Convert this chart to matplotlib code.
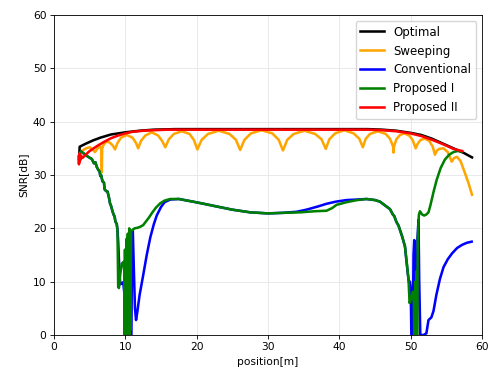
import matplotlib
matplotlib.use("Agg")
import matplotlib.pyplot as plt

# ---------------- data ----------------
opt_x = [3.55, 3.6, 4.5, 5.5, 6.5, 8.0, 10.0, 12.0, 14.0, 17.0, 25.0, 35.0, 44.0, 46.0,
         48.0, 50.0, 51.5, 53.0, 54.5, 56.0, 57.5, 58.6]
opt_y = [34.0, 35.3, 35.9, 36.5, 37.0, 37.6, 38.0, 38.3, 38.5, 38.6, 38.6, 38.6, 38.6, 38.5,
         38.3, 37.9, 37.5, 36.8, 35.9, 35.0, 34.1, 33.3]

swp_x = [3.5, 3.7, 4.0, 4.5, 5.0, 5.4, 5.75, 6.1, 6.5, 6.65, 6.7, 6.75, 7.0, 7.4, 7.9, 8.3,
         8.55, 8.9, 9.4, 10.2, 11.0, 11.5, 11.8, 12.2, 12.8, 13.7, 14.6, 15.2, 15.6, 16.1,
         16.8, 17.9, 19.0, 19.6, 20.1, 20.7, 21.6, 23.1, 24.6, 25.5, 26.1, 26.7, 27.6, 29.1,
         30.6, 31.5, 32.1, 32.7, 33.6, 35.1, 36.6, 37.5, 38.1, 38.6, 39.4, 40.7, 42.0, 42.8,
         43.3, 43.7, 44.3, 45.4, 46.5, 47.1, 47.55, 47.6, 47.65, 48.0, 48.5, 49.1, 49.8,
         50.3, 50.7, 51.0, 51.4, 52.0, 52.6, 53.1, 53.4, 53.7, 54.0, 54.6, 55.2, 55.75,
         56.1, 56.5, 57.0, 57.6, 58.1, 58.6]
swp_y = [33.0, 34.2, 34.6, 35.0, 35.2, 34.8, 34.3, 35.0, 35.3, 35.0, 30.5, 35.0, 35.8, 36.3,
         36.0, 35.4, 34.8, 36.0, 37.0, 37.5, 37.0, 36.0, 35.0, 36.4, 37.4, 38.0, 37.4, 36.3,
         35.2, 36.7, 37.7, 38.2, 37.7, 36.6, 34.8, 36.6, 37.7, 38.3, 37.7, 36.6, 34.7, 36.6,
         37.8, 38.4, 37.8, 36.6, 34.6, 36.6, 37.7, 38.3, 37.7, 36.7, 34.9, 36.7, 37.8, 38.4,
         37.8, 36.8, 35.2, 36.8, 37.7, 38.2, 37.7, 36.8, 35.3, 34.2, 35.3, 36.7, 37.5, 37.8,
         37.4, 36.5, 35.0, 35.9, 36.6, 36.8, 36.4, 35.3, 33.8, 34.6, 34.9, 35.0, 34.3, 32.5,
         33.2, 33.4, 32.6, 30.4, 28.5, 26.3]

conv_x = [3.8, 4.3, 4.8, 5.3, 5.6, 5.8, 6.0, 6.2, 6.4, 6.5, 6.6, 6.8, 7.0, 7.1, 7.3, 7.5,
          7.7, 7.85, 8.0, 8.2, 8.35, 8.5, 8.6, 8.8, 8.9, 9.0, 9.2, 9.3, 9.5, 9.7, 9.85,
          9.9, 9.95, 10.0, 10.1, 10.2, 10.3, 10.5, 10.6, 10.65, 10.7, 10.85, 10.95, 11.05,
          11.2, 11.35, 11.5, 11.7, 12.0, 12.5, 13.0, 13.5, 14.0, 14.4, 15.0, 15.5, 16.3,
          17.5, 19.5, 21.0, 22.8, 25.0, 27.5, 30.0, 32.0, 34.0, 35.4, 37.0, 38.2, 39.5,
          41.0, 42.5, 43.8, 45.0, 45.7, 46.2, 46.7, 47.1, 47.5, 47.7, 48.0, 48.3, 48.5,
          48.8, 49.2, 49.4, 49.6, 49.75, 49.9, 50.0, 50.1, 50.3, 50.4, 50.5, 50.6, 50.7,
          50.85, 50.95, 51.1, 51.2, 51.35, 51.8, 52.2, 52.5, 52.9, 53.2, 53.6, 54.1, 54.6,
          55.2, 55.8, 56.5, 57.2, 57.9, 58.55]
conv_y = [34.4, 33.9, 33.4, 33.0, 32.2, 32.4, 31.5, 31.0, 30.6, 29.8, 30.0, 28.8, 28.6,
          27.3, 27.0, 26.9, 25.8, 24.7, 24.2, 23.2, 22.6, 22.2, 21.3, 20.8, 19.7, 17.5,
          11.0, 9.5, 9.7, 9.9, 8.0, 0.0, 12.0, 0.0, 8.0, 0.0, 0.0, 0.0, 14.0, 17.2, 0.0,
          0.0, 19.0, 19.5, 12.0, 5.0, 2.8, 4.5, 7.5, 11.2, 15.0, 18.3, 20.8, 22.4, 24.0,
          24.9, 25.4, 25.5, 25.0, 24.6, 24.1, 23.5, 23.0, 22.8, 22.9, 23.1, 23.5, 24.1,
          24.6, 25.0, 25.3, 25.4, 25.5, 25.3, 25.0, 24.5, 24.0, 23.6, 22.6, 22.3, 21.2,
          20.5, 19.7, 18.5, 16.6, 14.0, 11.5, 10.0, 10.0, 9.0, 0.0, 0.0, 15.0, 17.8, 15.0,
          0.0, 0.0, 18.0, 21.6, 10.0, 0.0, 0.0, 0.3, 2.8, 3.3, 4.5, 7.5, 10.5, 12.7, 14.2,
          15.3, 16.3, 16.9, 17.3, 17.5]

p1_x = [3.8, 4.3, 4.8, 5.3, 5.6, 5.8, 6.0, 6.2, 6.4, 6.5, 6.6, 6.8, 7.0, 7.1, 7.3, 7.5,
        7.7, 7.85, 8.0, 8.2, 8.35, 8.5, 8.6, 8.8, 8.9, 9.0, 9.1, 9.3, 9.5, 9.75, 9.85,
        9.9, 9.95, 10.0, 10.05, 10.1, 10.15, 10.2, 10.25, 10.3, 10.35, 10.4, 10.45, 10.5,
        10.55, 10.6, 10.65, 10.7, 10.8, 11.0, 11.3, 11.7, 12.1, 12.5, 12.9, 13.3, 13.8,
        14.3, 14.9, 15.5, 16.3, 17.5, 19.5, 21.0, 22.8, 25.0, 27.5, 30.0, 32.0, 34.5,
        36.5, 38.2, 39.0, 39.6, 41.0, 42.5, 43.8, 45.0, 45.7, 46.2, 46.7, 47.1, 47.5,
        47.7, 48.0, 48.3, 48.5, 48.8, 49.2, 49.5, 49.7, 49.85, 50.0, 50.3, 50.45, 50.5,
        50.55, 50.6, 50.65, 50.7, 50.75, 50.8, 50.85, 50.9, 51.0, 51.15, 51.3, 51.6,
        51.9, 52.2, 52.5, 52.8, 53.2, 53.65, 54.2, 54.8, 55.4, 56.0, 56.6, 57.2]
p1_y = [34.4, 33.9, 33.4, 33.0, 32.2, 32.4, 31.5, 31.0, 30.6, 29.8, 30.0, 28.8, 28.6,
        27.3, 27.0, 26.9, 25.8, 24.7, 24.2, 23.2, 22.6, 22.2, 21.3, 20.8, 19.5, 9.0, 8.8,
        11.5, 13.4, 13.7, 12.0, 0.0, 16.0, 0.0, 13.0, 0.0, 18.0, 0.0, 15.0, 0.0, 19.0,
        0.0, 16.0, 0.0, 20.0, 0.0, 17.0, 1.0, 19.5, 19.7, 20.0, 20.1, 20.3, 20.6, 21.3,
        22.0, 23.0, 23.9, 24.7, 25.2, 25.5, 25.5, 25.0, 24.6, 24.1, 23.5, 23.0, 22.8,
        22.9, 23.0, 23.2, 23.3, 23.8, 24.4, 24.9, 25.3, 25.5, 25.3, 25.0, 24.5, 24.0,
        23.6, 22.6, 22.3, 21.2, 20.5, 19.7, 18.5, 16.6, 13.0, 10.3, 6.0, 6.5, 8.1, 6.0,
        0.0, 8.0, 0.0, 10.0, 0.0, 9.0, 0.0, 12.0, 0.0, 18.0, 22.5, 23.2, 22.6, 22.4,
        22.6, 23.0, 24.5, 26.8, 29.1, 31.3, 32.9, 33.8, 34.3, 34.5, 34.4]

p2_x = [3.45, 3.5, 3.55, 3.6, 3.65, 3.7, 3.8, 4.0, 4.5, 5.0, 6.0, 7.0, 8.0, 9.0, 10.0,
        11.0, 12.5, 14.0, 16.0, 44.0, 46.0, 48.0, 50.0, 51.5, 53.0, 54.5, 56.0, 57.2]
p2_y = [33.5, 32.0, 34.0, 32.5, 33.8, 32.8, 33.6, 33.2, 33.9, 34.5, 35.4, 36.2, 36.9,
        37.4, 37.8, 38.1, 38.3, 38.4, 38.5, 38.5, 38.4, 38.2, 37.8, 37.3, 36.6, 35.8,
        34.9, 34.5]

series = [
    ("Optimal", opt_x, opt_y, "black"),
    ("Sweeping", swp_x, swp_y, "orange"),
    ("Conventional", conv_x, conv_y, "blue"),
    ("Proposed I", p1_x, p1_y, "green"),
    ("Proposed II", p2_x, p2_y, "red"),
]

x_ticks = [0, 10, 20, 30, 40, 50, 60]
y_ticks = [0, 10, 20, 30, 40, 50, 60]

# ---------------- figure ----------------
s = 0.764  # pt scale (reference rendered at ~76 dpi)
plt.rcParams["font.size"] = 10 * s
fig = plt.figure(figsize=(4.89, 3.71), dpi=100)
ax = fig.add_axes([54 / 489, (371 - 335) / 371, (482 - 54) / 489, (335 - 15) / 371])

for name, xs, ys, c in series:
    ax.plot(xs, ys, color=c, lw=2.0 * s * 1.2, label=name)

ax.set_xlim(0, 60)
ax.set_ylim(0, 60)
ax.set_xticks(x_ticks)
ax.set_yticks(y_ticks)
ax.grid(True, color="#e6e6e6", lw=0.8 * s)
ax.set_axisbelow(True)
for sp in ax.spines.values():
    sp.set_linewidth(0.8 * s)
ax.tick_params(width=0.8 * s, length=3.5 * s, pad=3.5 * s)
ax.set_xlabel("position[m]", labelpad=4 * s)
ax.set_ylabel("SNR[dB]", labelpad=4 * s)
ax.legend(loc="upper right", fontsize=8.5, borderaxespad=0.5, handlelength=2.0)

fig.savefig("out.png", dpi=100)
